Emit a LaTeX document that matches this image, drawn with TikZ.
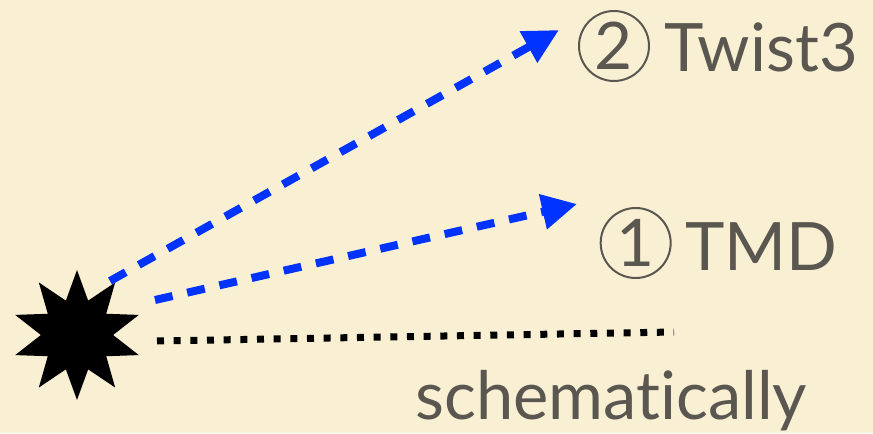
\documentclass[tikz,border=0pt]{standalone}
\usepackage{fontspec}
\setmainfont{Lato}[Ligatures=NoCommon]
\usetikzlibrary{arrows.meta,positioning,shapes.geometric}
\definecolor{paper}{HTML}{F9F0D4}
\definecolor{inkgray}{HTML}{5A5650}
\definecolor{flowblue}{HTML}{0033FF}

\begin{document}
\begin{tikzpicture}[>={Triangle[length=1.05cm,width=1.02cm]},
  lbl/.style={text=inkgray, font=\fontsize{57}{68}\selectfont, inner sep=0pt, anchor=base west},
  numring/.style={circle, draw=inkgray, line width=0.06cm, minimum size=2.1cm, inner sep=0pt,
    text=inkgray, font=\fontsize{56}{66}\selectfont},
  flow/.style={->, flowblue, line width=0.24cm, dash pattern=on 0.54cm off 0.45cm},
  plain/.style={black, line width=0.21cm, dash pattern=on 0.21cm off 0.29cm}]

  % paper
  \fill[paper] (0,0) rectangle (26.19,12.99);
  \useasboundingbox (0,0) rectangle (26.19,12.99);

  % Define coordinates for nodes
  \node[star, star points=10, star point ratio=1.8, minimum size=3.9cm, inner sep=0pt, fill=black] (burst) at (2.31, 2.94) {};
  \coordinate (s2) at (3.30, 4.56);
  \coordinate (s1) at (4.65, 3.99);
  \coordinate (s0) at (4.71, 2.76);
  \coordinate (t2) at (16.77, 12.09);
  \coordinate (t1) at (17.31, 6.87);
  \coordinate (t0) at (20.22, 3.03);
  \node[numring] (ring2) at (18.42, 11.61) {2};
  \node[lbl] (twist) at (19.92, 10.83) {Twist3};
  \node[numring] (ring1) at (19.07, 5.70) {1};
  \node[lbl] (tmd) at (20.55, 4.86) {TMD};
  \node[lbl] (schem) at (12.45, 0.42) {schematically};

  % Draw arrows between nodes
  \draw[flow] (s2) to (t2);
  \draw[flow] (s1) to (t1);
  \draw[plain] (s0) to (t0);
\end{tikzpicture}
\end{document}
